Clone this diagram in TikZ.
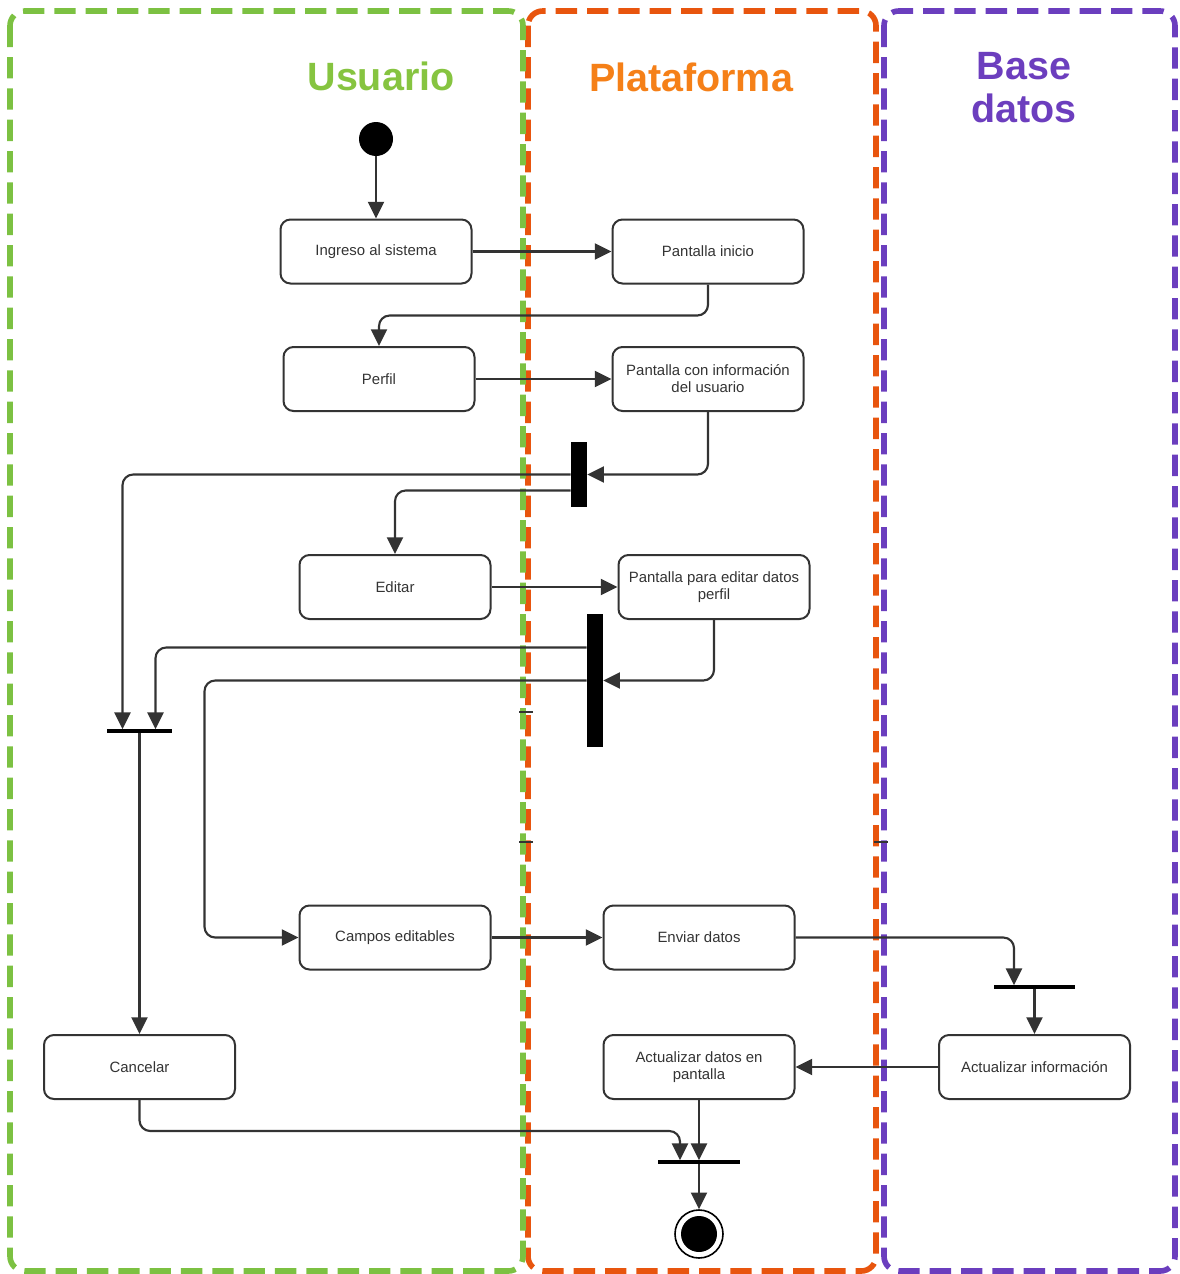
\documentclass[tikz,border=0pt]{standalone}
\usepackage{fontspec}
\setmainfont{Liberation Sans}
\usetikzlibrary{arrows.meta,calc}

\definecolor{laneGreen}{RGB}{124,193,66}
\definecolor{laneOrange}{RGB}{232,85,14}
\definecolor{lanePurple}{RGB}{107,62,190}
\definecolor{titleGreen}{RGB}{134,196,64}
\definecolor{titleOrange}{RGB}{245,128,24}
\definecolor{titlePurple}{RGB}{108,62,190}
\definecolor{ink}{RGB}{51,51,51}

\begin{document}
\begin{tikzpicture}[x=0.75pt,y=-0.75pt,
  lane/.style={line width=4.2pt, dash pattern=on 16pt off 7.5pt, rounded corners=11pt},
  lanetitle/.style={font=\fontsize{29.6}{32.25}\selectfont\bfseries, align=center, inner sep=0pt},
  action/.style={draw=ink, line width=1.5pt, rounded corners=7.5pt,
    minimum width=143.25pt, minimum height=48pt, inner sep=1pt, align=center,
    font=\fontsize{11.2}{12.75}\selectfont, text=ink},
  vbar/.style={fill=black, inner sep=0pt, minimum width=12pt},
  hbar/.style={fill=black, inner sep=0pt, minimum height=2.4pt},
  flow/.style={draw=ink, line width=1.6pt, rounded corners=8pt,
    -{Triangle[length=12.5pt,width=12pt]}},
  tick/.style={draw=ink, line width=1.8pt},
]
\useasboundingbox (0,0) rectangle (1179,1274);

% swimlanes
\draw[lane, draw=lanePurple] (884,11) rectangle (1175,1271);
\draw[lane, draw=laneOrange] (528,11) rectangle (876,1271);
\draw[lane, draw=laneGreen] (10,11) rectangle (523,1271);

% small marks on the lane borders
\draw[tick] (519,712) -- (533,712);
\draw[tick] (519,842) -- (533,842);
\draw[tick] (874,842) -- (888,842);

% lane titles
\node[lanetitle, text=titleGreen] (tUsuario) at (381,76) {Usuario};
\node[lanetitle, text=titleOrange] (tPlataforma) at (691,77) {Plataforma};
\node[lanetitle, text=titlePurple] (tBase) at (1024,88) {Base\\datos};

% initial and final states
\node[circle, fill=black, minimum size=25.5pt, inner sep=0pt] (start) at (376,139) {};
\node[circle, draw=black, line width=1.2pt, fill=white, minimum size=36pt, inner sep=0pt] (end) at (699,1234) {};
\node[circle, fill=black, minimum size=27pt, inner sep=0pt] (endDot) at (end.center) {};

% actions
\node[action] (ingreso) at (376,251.5) {Ingreso al sistema};
\node[action] (pinicio) at (708,251.5) {Pantalla inicio};
\node[action] (perfil) at (379,379) {Perfil};
\node[action] (pinfo) at (708,379) {Pantalla con información\\del usuario};
\node[action] (editar) at (395,587) {Editar};
\node[action] (peditar) at (714,587) {Pantalla para editar datos\\perfil};
\node[action] (campos) at (395,937.5) {Campos editables};
\node[action] (enviar) at (699,937.5) {Enviar datos};
\node[action] (actinfo) at (1034.5,1067) {Actualizar información};
\node[action] (actdatos) at (699,1067) {Actualizar datos en\\pantalla};
\node[action] (cancelar) at (139.5,1067) {Cancelar};

% fork and join bars
\node[vbar, minimum height=48.75pt] (b1) at (579,474.5) {};
\node[vbar, minimum height=99.75pt] (b2) at (595,680.5) {};
\node[hbar, minimum width=48.75pt] (joinL) at (139.5,731) {};
\node[hbar, minimum width=60.75pt] (joinR) at (1034.5,987) {};
\node[hbar, minimum width=61.5pt] (joinB) at (699,1162) {};

% control flow
\draw[flow] (start) -- (ingreso);
\draw[flow] (ingreso) -- (pinicio);
\draw[flow] (pinicio.south) -- ++(0,31) -| (perfil.north);
\draw[flow] (perfil) -- (pinfo);
\draw[flow] (pinfo.south) |- (b1.east);
\draw[flow] (b1.west) -| ($(joinL.north)+(-17,0)$);
\draw[flow] ($(b1.west)+(0,16)$) -| (editar.north);
\draw[flow] (editar) -- (peditar);
\draw[flow] (peditar.south) |- (b2.east);
\draw[flow] ($(b2.west)+(0,-33)$) -| ($(joinL.north)+(16,0)$);
\draw[flow] (b2.west) -| ($(campos.west)+(-94,0)$) -- (campos.west);
\draw[flow] (joinL.south) -- (cancelar.north);
\draw[flow] (campos) -- (enviar);
\draw[flow] (enviar.east) -| ($(joinR.north)+(-20.5,0)$);
\draw[flow] (joinR.south) -- (actinfo.north);
\draw[flow] (actinfo) -- (actdatos);
\draw[flow] (actdatos.south) -- (joinB.north);
\draw[flow] (cancelar.south) -- ++(0,31) -| ($(joinB.north)+(-19,0)$);
\draw[flow] (joinB.south) -- (end.north);
\end{tikzpicture}
\end{document}
